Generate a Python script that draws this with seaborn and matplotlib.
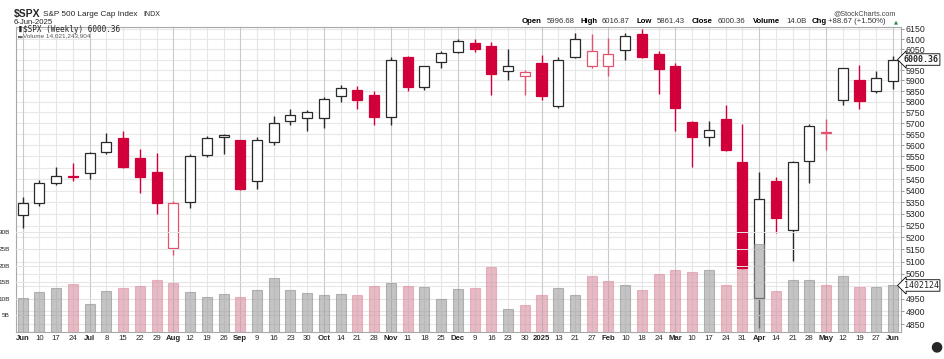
import numpy as np
import pandas as pd
import matplotlib
matplotlib.use("Agg")
import matplotlib.pyplot as plt
import seaborn as sns

# ---------------- data ----------------
week_labels = ["Jun", "10", "17", "24", "Jul", "8", "15", "22", "29", "Aug", "12", "19", "26",
               "Sep", "9", "16", "23", "30", "Oct", "14", "21", "28", "Nov", "11", "18", "25",
               "Dec", "9", "16", "23", "30", "2025", "13", "21", "27", "Feb", "10", "18", "24",
               "Mar", "10", "17", "24", "31", "Apr", "14", "21", "28", "May", "12", "19", "27", "Jun"]
month_labels = ["Jun", "Jul", "Aug", "Sep", "Oct", "Nov", "Dec", "2025", "Feb", "Mar", "Apr", "May"]

opens = [5293, 5345, 5431, 5462, 5476, 5572, 5632, 5545, 5480, 5158, 5351, 5558, 5636,
         5624, 5441, 5613, 5710, 5726, 5725, 5827, 5857, 5833, 5728, 6011, 5870, 5990,
         6037, 6083, 6067, 5944, 5919, 5982, 5780, 6014, 5967, 5967, 6046, 6124, 6025,
         5968, 5707, 5636, 5718, 5527, 4953, 5441, 5232, 5528, 5655, 5808, 5903, 5852, 5897]
highs = [5370, 5448, 5503, 5523, 5572, 5655, 5667, 5584, 5567, 5355, 5563, 5640, 5651,
         5626, 5636, 5733, 5767, 5762, 5823, 5878, 5872, 5851, 6011, 6017, 5970, 6042,
         6100, 6099, 6087, 6050, 5948, 6020, 6014, 6129, 6124, 6104, 6129, 6150, 6043,
         5986, 5712, 5713, 5786, 5696, 5481, 5459, 5528, 5698, 5720, 5959, 5975, 5944, 6016.87]
lows = [5239, 5334, 5423, 5441, 5449, 5563, 5497, 5390, 5300, 5126, 5325, 5549, 5563,
        5403, 5407, 5600, 5692, 5666, 5680, 5797, 5765, 5692, 5692, 5852, 5855, 5960,
        6030, 6036, 5832, 5902, 5830, 5807, 5770, 6008, 5962, 5919, 5999, 6010, 5837,
        5666, 5502, 5597, 5573, 5069, 4836, 5220, 5101, 5434, 5578, 5786, 5767, 5841, 5861.43]
closes = [5347, 5432, 5465, 5460, 5567, 5615, 5505, 5459, 5347, 5344, 5554, 5635, 5648,
          5408, 5626, 5703, 5738, 5751, 5815, 5865, 5808, 5729, 5996, 5871, 5969, 6032,
          6090, 6051, 5931, 5971, 5942, 5827, 5997, 6101, 6041, 6026, 6115, 6013, 5955,
          5770, 5639, 5668, 5581, 5074, 5363, 5283, 5525, 5687, 5660, 5958, 5803, 5912, 6000.36]
prev_close_start = 5277.5
volumes_b = [10.2, 12.0, 13.3, 14.5, 8.4, 12.3, 13.3, 13.8, 15.7, 14.7, 12.0, 10.5, 11.4,
             10.6, 12.6, 16.4, 12.6, 11.9, 11.1, 11.6, 11.3, 13.8, 14.9, 14.0, 13.5, 10.0,
             13.1, 13.3, 19.7, 6.8, 8.1, 11.1, 13.3, 11.0, 16.9, 15.4, 14.2, 12.7, 17.5,
             18.7, 18.2, 18.7, 14.2, 19.0, 26.5, 12.4, 15.7, 15.7, 14.2, 16.9, 13.5, 13.5, 14.02]
price_ticks = list(range(4850, 6151, 50))
hidden_price_labels = [5000, 6000]   # covered by the value markers in the reference
vol_ticks_b = [5, 10, 15, 20, 25, 30]

# ---------------- style ----------------
sns.set_style("white")
plt.rcParams["font.family"] = ["Liberation Sans", "DejaVu Sans"]

RED = "#d2003a"
RED_HOLLOW = "#e2536f"
BLACK = "#2a2a2a"
PINK = "#e07f95"
GRAY = "#9a9a9a"

n = len(closes)
pos = np.arange(n)
prev = [prev_close_start] + closes[:-1]
down = [c < p for c, p in zip(closes, prev)]

W, H = 945, 359
fig = plt.figure(figsize=(W / 100, H / 100), dpi=100)
left, right, top, bottom = 16, 901, 26.7, 332
ax = fig.add_axes([left / W, 1 - bottom / H, (right - left) / W, (bottom - top) / H])
axc = ax.twinx()
axv = ax.twinx()
ax.yaxis.tick_right()

xlim = (-0.40, n - 1 + 0.48)
plo, phi = 4819, 6161

# grid axis (price scale)
ax.set_yscale("log")
ax.set_ylim(plo, phi)
ax.set_xlim(*xlim)
for p in price_ticks:
    ax.axhline(p, color="#e8e8e8", lw=0.8, zorder=0)
for i, lab in enumerate(week_labels):
    is_month = lab in month_labels
    ax.axvline(i, color="#c9c9c9" if is_month else "#e6e6e6", lw=0.8, zorder=0)
ax.set_yticks(price_ticks)
ax.set_yticklabels(["" if p in hidden_price_labels else str(p) for p in price_ticks])
ax.yaxis.set_minor_locator(matplotlib.ticker.NullLocator())
ax.tick_params(axis="y", which="both", right=True, left=False, labelright=True, labelleft=False,
               length=2, width=0.6, color="#888888", labelsize=6.3, pad=1.5)
ax.set_xticks(pos)
ax.set_xticklabels(week_labels)
for t, lab in zip(ax.get_xticklabels(), week_labels):
    if lab in month_labels:
        t.set_fontweight("bold")
ax.tick_params(axis="x", length=0, labelsize=5.6, pad=2)
for s in ax.spines.values():
    s.set_color("#a8a8a8")
    s.set_linewidth(0.8)

# candle axis
axc.set_yscale("log")
axc.set_ylim(plo, phi)
axc.yaxis.set_visible(False)
for s in axc.spines.values():
    s.set_visible(False)
for i in range(n):
    o, h, l, c = opens[i], highs[i], lows[i], closes[i]
    hollow = c >= o
    if down[i]:
        col = RED_HOLLOW if hollow else RED
    else:
        col = BLACK
    axc.vlines(i, l, h, color=col, lw=1.0, zorder=2)
    axc.bar(i, max(abs(c - o), 0.5), bottom=min(o, c), width=0.6,
            facecolor="white" if hollow else col, edgecolor=col, linewidth=0.9, zorder=3)

# volume axis
vol_df = pd.DataFrame({"pos": pos, "vol": np.array(volumes_b) * 1e9,
                       "dir": ["down" if d else "up" for d in down]})
sns.barplot(data=vol_df, x="pos", y="vol", hue="dir", palette={"down": PINK, "up": GRAY},
            dodge=False, width=0.6, errorbar=None, legend=False, ax=axv, alpha=0.58,
            linewidth=0.8)
for patch in axv.patches:
    fc = patch.get_facecolor()
    if fc[0] > fc[1] + 0.1:
        patch.set_edgecolor((0.88, 0.55, 0.62, 0.8))
    else:
        patch.set_edgecolor((0.55, 0.55, 0.55, 0.7))
axv.set_xlim(*xlim)
axv.set_ylim(0, 92e9)
axv.set_xlabel("")
axv.set_ylabel("")
axv.yaxis.tick_left()
axv.set_yticks([v * 1e9 for v in vol_ticks_b])
axv.set_yticklabels([f"{v}B" for v in vol_ticks_b])
axv.tick_params(axis="y", left=False, right=False, labelleft=True, labelright=False,
                labelsize=4.6, pad=0.8)
for v in vol_ticks_b:
    axv.axhline(v * 1e9, color="#e4e4e4", lw=0.7, zorder=0)
for s in axv.spines.values():
    s.set_visible(False)
ax.set_xlim(*xlim)

# right-side value markers
ax.text(1.003, closes[-1], f"{closes[-1]:.2f}", transform=ax.get_yaxis_transform(),
        fontsize=6, fontweight="bold", family="DejaVu Sans Mono", va="center", ha="left",
        bbox=dict(boxstyle="larrow,pad=0.15", fc="white", ec="black", lw=0.6), zorder=10,
        clip_on=False)
axv.text(1.003, volumes_b[-1] * 1e9, "1402124", transform=axv.get_yaxis_transform(),
         fontsize=6, family="DejaVu Sans Mono", va="center", ha="left",
         bbox=dict(boxstyle="larrow,pad=0.15", fc="white", ec="black", lw=0.6), zorder=10,
         clip_on=False)


# ---------------- header ----------------
def ftext(x, y, s, **kw):
    fig.text(x / W, 1 - y / H, s, va="center", **kw)


ftext(14, 14, "$SPX", fontsize=7.5, fontweight="bold")
ftext(43, 14.5, "S&P 500 Large Cap Index", fontsize=5.9)
ftext(143, 14.5, "INDX", fontsize=5.0)
ftext(14, 23, "6-Jun-2025", fontsize=5.6)
ftext(833, 14, "@StockCharts.com", fontsize=5.2, color="#444444")
parts = [(522, "Open", True), (547, "5996.68", False), (581, "High", True), (602, "6016.87", False),
         (637, "Low", True), (657, "5861.43", False), (692, "Close", True), (718, "6000.36", False),
         (753, "Volume", True), (786, "14.0B", False), (812, "Chg", True),
         (828, "+88.67 (+1.50%)", False)]
for x, s, b in parts:
    ftext(x, 21.5, s, fontsize=5.6, fontweight="bold" if b else "normal",
          color="black" if b else "#333333")
ftext(894, 21.5, "\u25B2", fontsize=3.8, color="#1a8a3a", family="DejaVu Sans")

ftext(23, 29.3, "$SPX (Weekly) 6000.36", fontsize=5.5, family="DejaVu Sans Mono")
ftext(23, 35.4, "Volume 14,021,243,904", fontsize=4.6, color="#555555")
ftext(17, 29.3, "\u2590", fontsize=4.2, family="DejaVu Sans")
ftext(17, 35.4, "\u2583", fontsize=4.2, color="#666666", family="DejaVu Sans")

ftext(930, 346, "\u25CF", fontsize=10, family="DejaVu Sans")

fig.savefig("out.png", dpi=100)
